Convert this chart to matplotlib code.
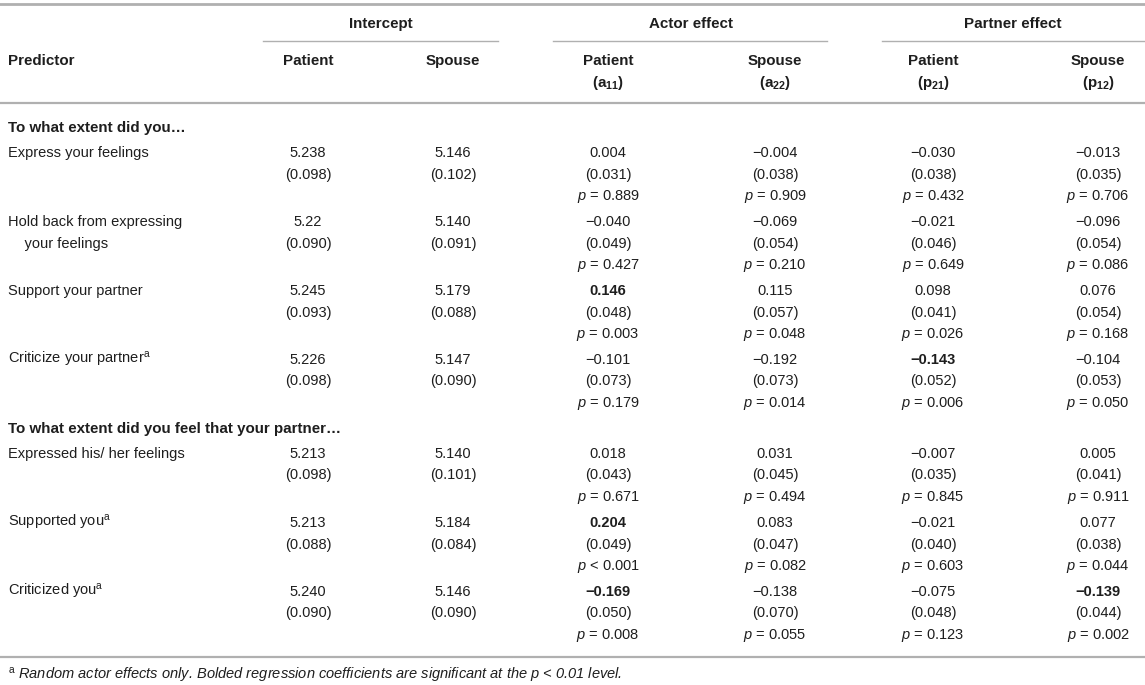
import matplotlib
matplotlib.use("Agg")
import matplotlib.pyplot as plt
from matplotlib.lines import Line2D

plt.rcParams['font.family'] = ['Liberation Sans', 'DejaVu Sans']
plt.rcParams['mathtext.fontset'] = 'custom'
plt.rcParams['mathtext.rm'] = 'Liberation Sans'
plt.rcParams['mathtext.it'] = 'Liberation Sans:italic'
plt.rcParams['mathtext.bf'] = 'Liberation Sans:bold'

# ---------------------------------------------------------
# Table data
# ---------------------------------------------------------
sections = ["To what extent did you\u2026",
            "To what extent did you feel that your partner\u2026"]
section_rows = [4, 3]

predictors = ["Express your feelings",
              "Hold back from expressing\n    your feelings",
              "Support your partner",
              "Criticize your partner$^{\\mathrm{a}}$",
              "Expressed his/ her feelings",
              "Supported you$^{\\mathrm{a}}$",
              "Criticized you$^{\\mathrm{a}}$"]

int_patient = ["5.238", "5.22", "5.245", "5.226", "5.213", "5.213", "5.240"]
int_patient_se = ["0.098", "0.090", "0.093", "0.098", "0.098", "0.088", "0.090"]
int_spouse = ["5.146", "5.140", "5.179", "5.147", "5.140", "5.184", "5.146"]
int_spouse_se = ["0.102", "0.091", "0.088", "0.090", "0.101", "0.084", "0.090"]

a11 = ["0.004", "\u22120.040", "0.146", "\u22120.101", "0.018", "0.204", "\u22120.169"]
a11_se = ["0.031", "0.049", "0.048", "0.073", "0.043", "0.049", "0.050"]
a11_p = ["= 0.889", "= 0.427", "= 0.003", "= 0.179", "= 0.671", "< 0.001", "= 0.008"]

a22 = ["\u22120.004", "\u22120.069", "0.115", "\u22120.192", "0.031", "0.083", "\u22120.138"]
a22_se = ["0.038", "0.054", "0.057", "0.073", "0.045", "0.047", "0.070"]
a22_p = ["= 0.909", "= 0.210", "= 0.048", "= 0.014", "= 0.494", "= 0.082", "= 0.055"]

p21 = ["\u22120.030", "\u22120.021", "0.098", "\u22120.143", "\u22120.007", "\u22120.021", "\u22120.075"]
p21_se = ["0.038", "0.046", "0.041", "0.052", "0.035", "0.040", "0.048"]
p21_p = ["= 0.432", "= 0.649", "= 0.026", "= 0.006", "= 0.845", "= 0.603", "= 0.123"]

p12 = ["\u22120.013", "\u22120.096", "0.076", "\u22120.104", "0.005", "0.077", "\u22120.139"]
p12_se = ["0.035", "0.054", "0.054", "0.053", "0.041", "0.038", "0.044"]
p12_p = ["= 0.706", "= 0.086", "= 0.168", "= 0.050", "= 0.911", "= 0.044", "= 0.002"]

groups = ["Intercept", "Actor effect", "Partner effect"]
sub_top = ["Patient", "Spouse", "Patient", "Spouse", "Patient", "Spouse"]
sub_bottom = ["", "", "($\\mathbf{a}_{\\mathbf{11}}$)", "($\\mathbf{a}_{\\mathbf{22}}$)",
              "($\\mathbf{p}_{\\mathbf{21}}$)", "($\\mathbf{p}_{\\mathbf{12}}$)"]
footnote = ("$^{\\mathrm{a}}$ Random actor effects only. Bolded regression coefficients "
            "are significant at the p < 0.01 level.")

# ---------------------------------------------------------
# Layout (pixels)
# ---------------------------------------------------------
W, H = 1145, 685
fig = plt.figure(figsize=(W / 100, H / 100), dpi=100)
fig.patch.set_facecolor('white')

TXT = '#1e1e1e'
RULE = '#b0b0b0'
FS = 10.5      # body text
FSB = 10.9     # bold header text
LS = 21.5      # line spacing inside a row
STEP = 69      # row step
BASE = 5       # centre -> baseline offset (px)

def fx(x):
    return x / W

def fy(y):
    return 1 - y / H

def hline(x0, x1, y, lw):
    fig.add_artist(Line2D([fx(x0), fx(x1)], [fy(y), fy(y)], color=RULE, lw=lw,
                          transform=fig.transFigure))

def put(x, y, s, ha='center', weight='normal', style='normal', size=FS):
    # y is the visual middle of the line; draw on a shared baseline
    fig.text(fx(x), fy(y + BASE), s, ha=ha, va='baseline', fontsize=size,
             fontweight=weight, fontstyle=style, color=TXT)

col_x = [308, 453, 608, 775, 933, 1098]
group_x = [381, 691, 1013]
group_lines = [(263, 498), (553, 827), (882, 1145)]

# rules
hline(0, W, 4, 2.0)
hline(0, W, 103, 1.6)
hline(0, W, 657, 1.6)
for (a, b) in group_lines:
    hline(a, b, 41, 1.0)

# header
for g, gx in zip(groups, group_x):
    put(gx, 23, g, weight='bold', size=FSB)
put(8, 60, "Predictor", ha='left', weight='bold', size=FSB)
for cx, t, b in zip(col_x, sub_top, sub_bottom):
    put(cx, 60, t, weight='bold', size=FSB)
    if b:
        put(cx, 82, b, weight='bold', size=FSB)

# body
cols = [(int_patient, int_patient_se, None),
        (int_spouse, int_spouse_se, None),
        (a11, a11_se, a11_p),
        (a22, a22_se, a22_p),
        (p21, p21_se, p21_p),
        (p12, p12_se, p12_p)]

y = 127
r = 0
for sec, n in zip(sections, section_rows):
    put(8, y, sec, ha='left', weight='bold', size=FSB)
    y += 25
    for _ in range(n):
        for k, line in enumerate(predictors[r].split('\n')):
            put(8, y + LS * k, line, ha='left')
        for cx, (coef, se, pv) in zip(col_x, cols):
            bold = False
            if pv is not None:
                bold = float(pv[r].split(' ')[1]) < 0.01
                put(cx, y + 2 * LS, "$p$ " + pv[r])
            put(cx, y, coef[r], weight='bold' if bold else 'normal')
            put(cx, y + LS, "(" + se[r] + ")")
        y += STEP
        r += 1

put(8, 675, footnote, ha='left', style='italic')

fig.savefig("out.png", dpi=100, facecolor='white')
